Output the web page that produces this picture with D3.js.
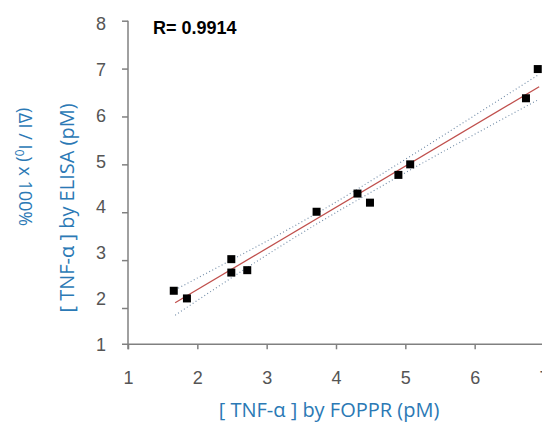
<!DOCTYPE html>
<html>
<head>
<meta charset="utf-8">
<script src="https://cdn.jsdelivr.net/npm/d3@7"></script>
<style>
  html, body { margin: 0; padding: 0; background: #fff; }
  svg { display: block; }
</style>
</head>
<body>
<svg id="chart" width="542" height="424"></svg>
<script>
// ---- data ----
const foppr = [1.66, 1.85, 2.49, 2.49, 2.72, 3.72, 4.31, 4.49, 4.90, 5.07, 6.74, 6.91];
const elisa = [2.36, 2.20, 3.02, 2.74, 2.79, 4.01, 4.39, 4.20, 4.78, 5.00, 6.38, 6.99];
const fitX = [1.68, 6.93];
const fitY = [2.11, 6.62];
const bandX = [1.68, 2.8, 3.95, 5.4, 6.93];
const bandUpper = [2.38, 3.24, 4.17, 5.47, 6.88];
const bandLower = [1.85, 2.92, 3.95, 5.15, 6.36];
const xTicks = [1, 2, 3, 4, 5, 6, 7];
const yTicks = [2, 3, 4, 5, 6, 7, 8];
const yLabels = ["1", "2", "3", "4", "5", "6", "7", "8"];
const rText = "R= 0.9914";
const xTitle = "[ TNF-α ] by FOPPR (pM)";
const yTitle = "[ TNF-α ] by ELISA (pM)";

// ---- layout ----
const svg = d3.select("#chart");
const axisColor = "#808080";
const labelColor = "#555555";
const blue = "#2b79b5";
const axisY = 344.3;
const axisX = 128;

const x = d3.scaleLinear().domain([1, 7]).range([128, 544]);
const y = d3.scaleLinear().domain([2, 8]).range([308, 20.7]);
const yLab = d3.scalePoint().domain(yLabels).range([344.3, 24]);

// axis lines
svg.append("line").attr("x1", 122).attr("x2", 542).attr("y1", axisY).attr("y2", axisY)
  .attr("stroke", axisColor).attr("stroke-width", 1.5);
svg.append("line").attr("x1", axisX).attr("x2", axisX).attr("y1", y(8)).attr("y2", axisY + 5)
  .attr("stroke", axisColor).attr("stroke-width", 1.5);

// x axis ticks + labels
const gx = svg.append("g").attr("transform", `translate(0,${axisY})`)
  .call(d3.axisBottom(x).tickValues(xTicks).tickSize(5).tickPadding(22).tickFormat(d3.format("d")));
gx.select(".domain").remove();
gx.selectAll(".tick line").attr("stroke", axisColor).attr("stroke-width", 1.5);
gx.selectAll(".tick text").attr("fill", labelColor)
  .style("font-family", "'Liberation Sans', Arial, sans-serif").style("font-size", "18px");

// y axis tick marks
const gy = svg.append("g").attr("transform", `translate(${axisX},0)`)
  .call(d3.axisLeft(y).tickValues(yTicks).tickSize(6).tickFormat(""));
gy.select(".domain").remove();
gy.selectAll(".tick line").attr("stroke", axisColor).attr("stroke-width", 1.5);

// y axis labels
const gyl = svg.append("g").attr("transform", `translate(${axisX},0)`)
  .call(d3.axisLeft(yLab).tickSize(0).tickPadding(22));
gyl.select(".domain").remove();
gyl.selectAll(".tick text").attr("fill", labelColor)
  .style("font-family", "'Liberation Sans', Arial, sans-serif").style("font-size", "18px");

// confidence bands
const bandLine = d3.line().curve(d3.curveNatural).x(d => x(d[0])).y(d => y(d[1]));
[bandUpper, bandLower].forEach(arr => {
  svg.append("path")
    .attr("d", bandLine(bandX.map((v, i) => [v, arr[i]])))
    .attr("fill", "none").attr("stroke", "#6f8aa6").attr("stroke-width", 1.1)
    .attr("stroke-dasharray", "1 2.5");
});

// fit line
svg.append("path")
  .attr("d", d3.line().x(d => x(d[0])).y(d => y(d[1]))(fitX.map((v, i) => [v, fitY[i]])))
  .attr("fill", "none").attr("stroke", "#c0504d").attr("stroke-width", 1.3);

// points
const s = 8;
svg.append("g").selectAll("rect").data(foppr.map((v, i) => [v, elisa[i]])).join("rect")
  .attr("x", d => x(d[0]) - s / 2).attr("y", d => y(d[1]) - s / 2)
  .attr("width", s).attr("height", s).attr("fill", "#000");

// R annotation
svg.append("text").attr("x", 153).attr("y", 33.5).text(rText)
  .style("font-family", "'Liberation Sans', Arial, sans-serif").style("font-size", "18px")
  .style("font-weight", "bold").attr("fill", "#000");

// axis titles
const titleFont = "'Open Sans', 'Noto Sans', sans-serif";
svg.append("text").attr("x", 329).attr("y", 417).attr("text-anchor", "middle").text(xTitle)
  .attr("fill", blue).style("font-family", titleFont).style("font-size", "20px");

svg.append("text").attr("transform", "translate(74,208) rotate(-90)").attr("text-anchor", "middle")
  .text(yTitle).attr("fill", blue).style("font-family", titleFont).style("font-size", "20px");

const t2 = svg.append("text").attr("transform", "translate(19,167) rotate(90)").attr("text-anchor", "middle")
  .attr("fill", blue).style("font-family", titleFont).style("font-size", "18px");
t2.append("tspan").text("(ΔI / I");
t2.append("tspan").text("0").attr("dy", 4).style("font-size", "12px");
t2.append("tspan").text(") x 100%").attr("dy", -4);
</script>
</body>
</html>
